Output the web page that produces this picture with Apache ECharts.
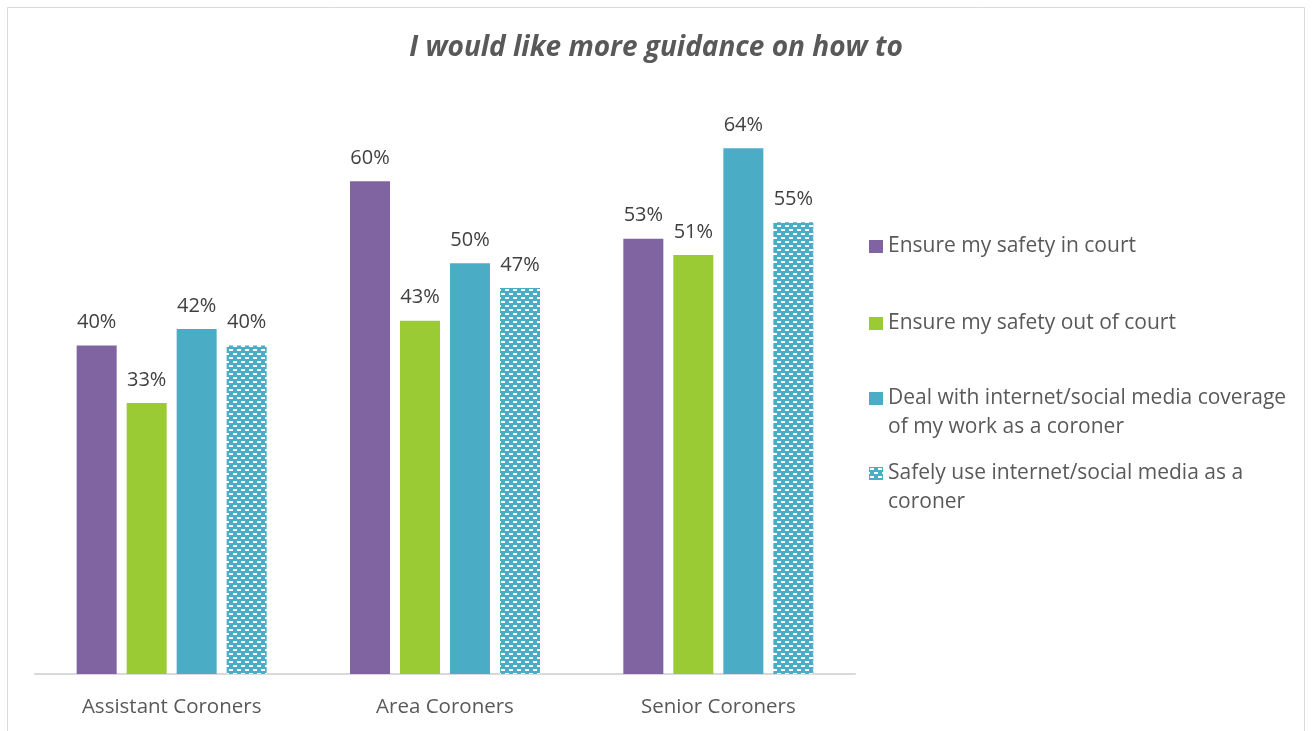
<!DOCTYPE html>
<html><head><meta charset="utf-8">
<script src="https://cdn.jsdelivr.net/npm/echarts@6/dist/echarts.min.js"></script>
<style>html,body{margin:0;padding:0;background:#fff}#c{width:1312px;height:731px}</style>
</head><body><div id="c"></div>
<script>
const categories = ['Assistant Coroners', 'Area Coroners', 'Senior Coroners'];
const seriesNames = ['Ensure my safety in court', 'Ensure my safety out of court', 'Deal with internet/social media coverage\nof my work as a coroner', 'Safely use internet/social media as a\ncoroner'];
const safetyInCourt = [40, 60, 53];
const safetyOutOfCourt = [33, 43, 51];
const dealWithCoverage = [42, 50, 64];
const safelyUseMedia = [40, 47, 55];
const titleText = 'I would like more guidance on how to';

const FONT = 'Open Sans';
const colors = ['#8064A2', '#9BCB34', '#4BACC6'];

const tile = document.createElement('canvas');
tile.width = 8; tile.height = 8;
const tc = tile.getContext('2d');
tc.fillStyle = '#4BACC6'; tc.fillRect(0, 0, 8, 8);
tc.fillStyle = '#ffffff';
tc.fillRect(1, 1, 4, 2);
tc.fillRect(5, 5, 3, 2); tc.fillRect(0, 5, 1, 2);
const patternFill = { image: tile, repeat: 'repeat' };

const allData = [safetyInCourt, safetyOutOfCourt, dealWithCoverage, safelyUseMedia];
const fills = [colors[0], colors[1], colors[2], patternFill];

// two-line legend entries: square aligned with first text line
const topIcon = 'path://M0,0H14V13H0Z M0,42H14V42.01H0Z';
const legendTops = [232, 309, 384, 459];
const twoLine = [false, false, true, true];

const chart = echarts.init(document.getElementById('c'), null, { renderer: 'canvas' });
chart.setOption({
  animation: false,
  textStyle: { fontFamily: FONT },
  title: {
    text: titleText, left: 'center', top: 29,
    textStyle: { fontFamily: FONT, fontSize: 28, fontWeight: 'bold', fontStyle: 'italic', color: '#595959' }
  },
  graphic: [{ type: 'rect', shape: { x: 7.5, y: 7.5, width: 1297, height: 800 }, style: { fill: null, stroke: '#D9D9D9', lineWidth: 1 }, silent: true }],
  legend: seriesNames.map((n, i) => ({
    data: [n], left: 869, top: legendTops[i], orient: 'vertical',
    icon: twoLine[i] ? topIcon : 'rect',
    itemWidth: 14, itemHeight: twoLine[i] ? 42 : 13, itemGap: 0, padding: 0, selectedMode: false,
    textStyle: { fontFamily: FONT, fontSize: 21, color: '#595959', lineHeight: 29 }
  })),
  grid: { left: 35, right: 457, top: 99, bottom: 57 },
  xAxis: {
    type: 'category', data: categories,
    axisLine: { lineStyle: { color: '#D9D9D9', width: 2 } },
    axisTick: { show: false },
    axisLabel: { color: '#595959', fontSize: 20.5, fontFamily: FONT, margin: 23 }
  },
  yAxis: { type: 'value', min: 0, max: 70, show: false, splitLine: { show: false } },
  series: allData.map((d, i) => ({
    type: 'bar', name: seriesNames[i], data: d,
    barWidth: 40, barGap: '25%',
    itemStyle: { color: fills[i] },
    label: { show: true, position: 'top', distance: 13, formatter: '{c}%', fontFamily: FONT, fontSize: 20, color: '#404040' }
  }))
});
</script></body></html>
